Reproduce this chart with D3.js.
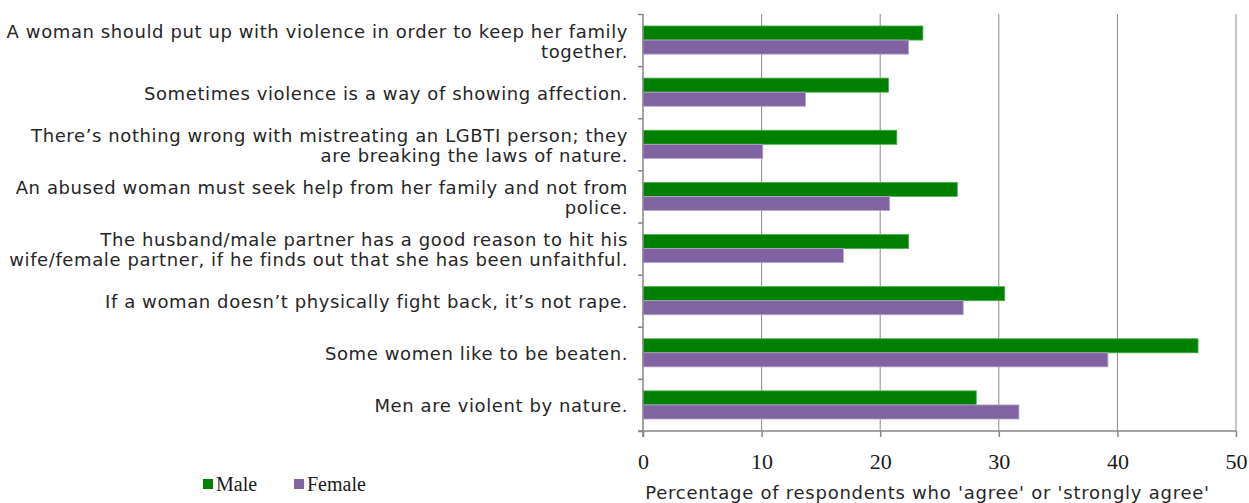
<!DOCTYPE html>
<html>
<head>
<meta charset="utf-8">
<script src="https://cdn.jsdelivr.net/npm/d3@7"></script>
<style>
    body { margin: 0; background: #fff; }
    svg { display: block; }
</style>
</head>
<body>
<div id="chart"></div>
<script>
// Chart data
const categories = [
    'A woman should put up with violence in order to keep her family\ntogether.',
    'Sometimes violence is a way of showing affection.',
    'There\u2019s nothing wrong with mistreating an LGBTI person; they\nare breaking the laws of nature.',
    'An abused woman must seek help from her family and not from\npolice.',
    'The husband/male partner has a good reason to hit his\nwife/female partner, if he finds out that she has been unfaithful.',
    'If a woman doesn\u2019t physically fight back, it\u2019s not rape.',
    'Some women like to be beaten.',
    'Men are violent by nature.'
];
const seriesNames = ['Male', 'Female'];
const maleValues = [23.6, 20.7, 21.4, 26.5, 22.4, 30.5, 46.8, 28.1];
const femaleValues = [22.4, 13.7, 10.1, 20.8, 16.9, 27.0, 39.2, 31.7];
const xTicks = [0, 10, 20, 30, 40, 50];
const xTitle = "Percentage of respondents who 'agree' or 'strongly agree'";

const colors = { Male: '#008000', Female: '#8064A2' };
const strokes = { Male: '#4cae4c', Female: '#b8a6d0' };

const sansFont = '"DejaVu Sans", "Open Sans", sans-serif';
const serifFont = '"Liberation Serif", "DejaVu Serif", serif';

const width = 1249, height = 503;
const margin = { top: 14, right: 13, bottom: 72, left: 643 };
const innerW = width - margin.left - margin.right;
const innerH = height - margin.top - margin.bottom;

const svg = d3.select('#chart').append('svg')
    .attr('width', width)
    .attr('height', height);

const g = svg.append('g')
    .attr('transform', `translate(${margin.left},${margin.top})`);

const x = d3.scaleLinear().domain([0, 50]).range([0, innerW]);
const y = d3.scaleBand().domain(categories).range([0, innerH])
    .paddingInner(0.46).paddingOuter(0.23);
const ySub = d3.scaleBand().domain(seriesNames).range([0, y.bandwidth()]);
const yEdge = d3.scaleLinear().domain([0, categories.length]).range([0, innerH]);

// Gridlines
g.append('g')
    .selectAll('line')
    .data(xTicks.slice(1))
    .enter().append('line')
    .attr('x1', d => x(d)).attr('x2', d => x(d))
    .attr('y1', 0).attr('y2', innerH)
    .style('stroke', '#8c8c8c')
    .style('stroke-width', 1);

// Bars
const rows = categories.map((c, i) => ({ cat: c, Male: maleValues[i], Female: femaleValues[i] }));
const groups = g.selectAll('.row')
    .data(rows)
    .enter().append('g')
    .attr('class', 'row')
    .attr('transform', d => `translate(0,${y(d.cat)})`);

groups.selectAll('rect')
    .data(d => seriesNames.map(s => ({ s, v: d[s] })))
    .enter().append('rect')
    .attr('x', x(0))
    .attr('y', d => ySub(d.s))
    .attr('width', d => x(d.v) - x(0))
    .attr('height', ySub.bandwidth())
    .style('fill', d => colors[d.s])
    .style('stroke', d => strokes[d.s])
    .style('stroke-width', 0.8);

// Left axis with ticks between categories
const yAxis = g.append('g')
    .call(d3.axisLeft(yEdge).ticks(categories.length).tickFormat('').tickSize(5).tickSizeOuter(0));
yAxis.select('.domain').attr('d', `M0,0V${innerH + 6}`);

// Bottom axis
const xAxis = g.append('g')
    .attr('transform', `translate(0,${innerH})`)
    .call(d3.axisBottom(x).tickValues(xTicks).tickSize(6).tickPadding(16).tickSizeOuter(0));
xAxis.select('.domain').attr('d', `M-5,0H${innerW}`);
xAxis.selectAll('text')
    .style('font-family', serifFont)
    .style('font-size', '22px')
    .style('fill', '#1a1a1a');

[yAxis, xAxis].forEach(a => {
    a.selectAll('.domain, .tick line').style('stroke', '#868686').style('stroke-width', 1.5);
});

// Category labels
const labels = g.append('g')
    .selectAll('text')
    .data(categories)
    .enter().append('text')
    .attr('x', -15)
    .attr('y', d => y(d) + y.bandwidth() / 2)
    .style('text-anchor', 'end')
    .style('font-family', sansFont)
    .style('font-size', '18px')
    .style('letter-spacing', '0.6px')
    .style('fill', '#262626');

labels.each(function (d) {
    const lines = d.split('\n');
    const el = d3.select(this);
    lines.forEach((line, i) => {
        el.append('tspan')
            .attr('x', -15)
            .attr('dy', i === 0 ? `${0.42 - (lines.length - 1) * 0.56}em` : '1.12em')
            .text(line);
    });
});

// Axis title
svg.append('text')
    .attr('x', margin.left + innerW / 2 - 12)
    .attr('y', 499)
    .style('text-anchor', 'middle')
    .style('font-family', sansFont)
    .style('font-size', '18px')
    .style('letter-spacing', '0.75px')
    .style('fill', '#262626')
    .text(xTitle);

// Legend
const legend = svg.append('g').attr('transform', 'translate(203,484)');
const items = legend.selectAll('g')
    .data(seriesNames)
    .enter().append('g')
    .attr('transform', (d, i) => `translate(${i * 91},0)`);
items.append('rect')
    .attr('x', 0).attr('y', -5)
    .attr('width', 10).attr('height', 10)
    .style('fill', d => colors[d]);
items.append('text')
    .attr('x', 13)
    .attr('dy', '0.35em')
    .style('font-family', serifFont)
    .style('font-size', '20px')
    .style('fill', '#1a1a1a')
    .text(d => d);
</script>
</body>
</html>
